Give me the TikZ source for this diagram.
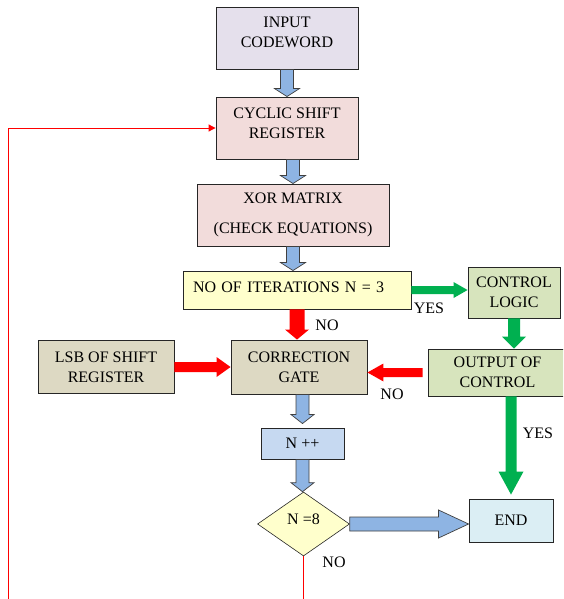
\documentclass[tikz,border=0pt]{standalone}
\usepackage{fontspec}
\setmainfont{Liberation Serif}
\usetikzlibrary{shapes.geometric,calc,arrows.meta}
\definecolor{cin}{HTML}{E5E0EC}
\definecolor{cpink}{HTML}{F2DCDB}
\definecolor{cyel}{HTML}{FFFFCC}
\definecolor{cgreenbox}{HTML}{D7E4BD}
\definecolor{ctan}{HTML}{DDD9C3}
\definecolor{cnpp}{HTML}{C6D9F1}
\definecolor{cend}{HTML}{DBEEF4}
\definecolor{arrblue}{HTML}{8EB4E3}
\definecolor{arrgreen}{HTML}{00B050}
% block arrow: #1 style, #2 start, #3 tip, #4 shaft half width, #5 head half width, #6 head length
\newcommand\barrow[6]{%
  \coordinate (ba-s) at (#2);
  \coordinate (ba-e) at (#3);
  \coordinate (ba-h) at ($(ba-e)!#6!(ba-s)$);
  \path[#1] ($(ba-s)!#4!90:(ba-e)$) -- ($(ba-h)!#4!90:(ba-e)$) -- ($(ba-h)!#5!90:(ba-e)$)
    -- (ba-e) -- ($(ba-h)!#5!-90:(ba-e)$) -- ($(ba-h)!#4!-90:(ba-e)$) -- ($(ba-s)!#4!-90:(ba-e)$) -- cycle;}
\begin{document}
\begin{tikzpicture}[x=1pt,y=-1pt,
  box/.style={draw=black!85, line width=0.9pt, inner sep=0pt, align=center, font=\fontsize{16}{20}\selectfont},
  lbl/.style={font=\fontsize{16}{20}\selectfont, inner sep=0pt},
  bluearr/.style={fill=arrblue, draw=black!75, line width=0.7pt},
  greenarr/.style={fill=arrgreen},
  redarr/.style={fill=red},
  fb/.style={draw=red, line width=1pt}]
\useasboundingbox (0,0) rectangle (563,599);
\clip (0,0) rectangle (563,599);

\node[box, fill=cin, minimum width=142pt, minimum height=62pt, text depth=12pt] (in) at (287,38) {INPUT\\CODEWORD};
\node[box, fill=cpink, minimum width=142pt, minimum height=62pt, text depth=9pt] (csr) at (287,128) {CYCLIC SHIFT\\REGISTER};
\node[box, fill=cpink, minimum width=192pt, minimum height=62pt] (xor) at (293,215) {XOR MATRIX\\[10pt](CHECK EQUATIONS)};
\node[box, fill=cyel, minimum width=228pt, minimum height=38pt, text depth=6pt, align=left, text width=208pt] (iter) at (297,290) {NO OF ITERATIONS N = 3};
\node[box, fill=cgreenbox, minimum width=92pt, minimum height=51pt] (cl) at (514,292.5) {CONTROL\\LOGIC};
\node[box, fill=cgreenbox, minimum width=139pt, minimum height=47pt] (oc) at (497.5,372.5) {OUTPUT OF\\CONTROL};
\node[box, fill=ctan, minimum width=136pt, minimum height=54pt] (cg) at (299,367) {CORRECTION\\GATE};
\node[box, fill=ctan, minimum width=136pt, minimum height=53pt] (lsb) at (106,367) {LSB OF SHIFT\\REGISTER};
\node[box, fill=cnpp, minimum width=83pt, minimum height=31pt] (npp) at (302.5,443.5) {N ++};
\node[box, diamond, fill=cyel, line width=0.6pt, minimum width=92pt, minimum height=64pt, text height=0pt, text depth=0pt] (dia) at (303.5,524) {N =8};
\node[box, fill=cend, minimum width=84pt, minimum height=43pt] (end) at (511,520.5) {END};

\node[lbl] (yes1) at (429,308) {YES};
\node[lbl] (no1) at (327,325) {NO};
\node[lbl] (no2) at (392,394) {NO};
\node[lbl] (yes2) at (538,433) {YES};
\node[lbl] (no3) at (334,562) {NO};

\barrow{bluearr}{in.south}{csr.north}{6.5pt}{12.5pt}{8pt}
\barrow{bluearr}{xor.north |- csr.south}{xor.north}{6.5pt}{12.5pt}{8pt}
\barrow{bluearr}{xor.south}{xor.south |- iter.north}{6.5pt}{12.5pt}{8pt}
\barrow{redarr}{iter.south}{iter.south |- cg.north}{7.5pt}{12pt}{10pt}
\barrow{greenarr}{iter.east}{iter.east -| cl.west}{4pt}{8pt}{14pt}
\barrow{greenarr}{cl.south}{cl.south |- oc.north}{6pt}{12pt}{12pt}
\barrow{redarr}{[xshift=-5pt]oc.west}{cg.east |- oc.west}{4.5pt}{9pt}{16pt}
\barrow{redarr}{lsb.east}{cg.west}{5pt}{10pt}{14pt}
\barrow{bluearr}{npp.north |- cg.south}{[yshift=4pt]npp.north}{6.5pt}{11.5pt}{9pt}
\barrow{bluearr}{npp.south}{npp.south |- dia.north}{6.5pt}{11.5pt}{9pt}
\barrow{bluearr}{dia.east}{dia.east -| end.west}{7pt}{14pt}{30pt}
\barrow{greenarr}{end.north |- oc.south}{[yshift=4pt]end.north}{5.5pt}{12.5pt}{23pt}

\coordinate (fbb) at (8,620);
\draw[fb, -{Triangle[length=7pt,width=7pt]}] (dia.south) |- (fbb) |- (csr.west);
\end{tikzpicture}
\end{document}
